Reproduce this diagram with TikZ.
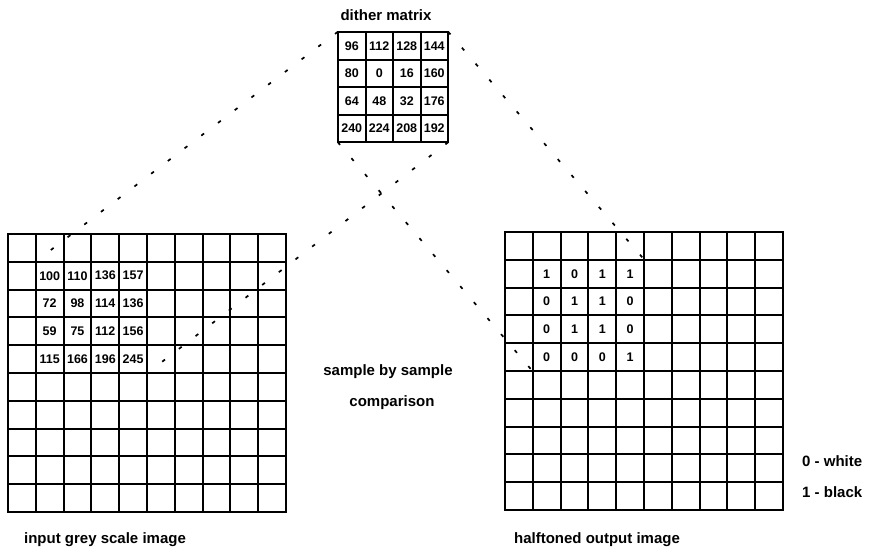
\documentclass[tikz,border=0pt]{standalone}
\usepackage{fontspec}
\setmainfont{Liberation Sans}
\begin{document}
\begin{tikzpicture}[x=1pt,y=-1pt,
  gridline/.style={line width=1.8pt, line cap=rect},
  link/.style={line width=1.7pt, dash pattern=on 3.5pt off 17.5pt},
  num/.style={font=\fontsize{12.5}{12.5}\selectfont\bfseries, inner sep=0pt},
  caption/.style={font=\fontsize{15}{15}\selectfont\bfseries, inner sep=0pt},
  region/.style={inner sep=0pt, minimum width=#1, minimum height=#1}]

\useasboundingbox (0,0) rectangle (873,554);

% input grey scale image: 10 x 10 grid
\foreach \i in {0,...,10} {
  \draw[gridline] ({round(8+27.8*\i)},234) -- ({round(8+27.8*\i)},512);
  \draw[gridline] (8,{round(234+27.8*\i)}) -- (286,{round(234+27.8*\i)});
}
% halftoned output image: 10 x 10 grid
\foreach \i in {0,...,10} {
  \draw[gridline] ({round(505+27.8*\i)},232) -- ({round(505+27.8*\i)},510);
  \draw[gridline] (505,{round(232+27.8*\i)}) -- (783,{round(232+27.8*\i)});
}
% dither matrix: 4 x 4 grid
\foreach \i in {0,...,4} {
  \draw[gridline] ({round(338+27.5*\i)},32) -- ({round(338+27.5*\i)},142);
  \draw[gridline] (338,{round(32+27.5*\i)}) -- (448,{round(32+27.5*\i)});
}

% blocks that are compared
\node[region=110pt]   (dm)     at (393,87) {};
\node[region=111.2pt] (inreg)  at ({8+27.8*3},{234+27.8*3}) {};
\node[region=111.2pt] (outreg) at ({505+27.8*3},{232+27.8*3}) {};

% dither matrix values
\foreach \row [count=\r] in {{96,112,128,144},{80,0,16,160},{64,48,32,176},{240,224,208,192}} {
  \foreach \v [count=\c] in \row {
    \node[num] (dm-\r-\c) at ({338+27.5*(\c-0.5)},{32+27.5*(\r-0.5)}) {\v};
  }
}
% input samples
\foreach \row [count=\r] in {{100,110,136,157},{72,98,114,136},{59,75,112,156},{115,166,196,245}} {
  \foreach \v [count=\c] in \row {
    \node[num] (in-\r-\c) at ({8+27.8*(\c+0.5)},{234+27.8*(\r+0.5)}) {\v};
  }
}
% output samples
\foreach \row [count=\r] in {{1,0,1,1},{0,1,1,0},{0,1,1,0},{0,0,0,1}} {
  \foreach \v [count=\c] in \row {
    \node[num] (out-\r-\c) at ({505+27.8*(\c+0.5)},{232+27.8*(\r+0.5)}) {\v};
  }
}

% projection lines
\draw[link] (dm.north west) -- (inreg.north west);
\draw[link] (dm.south east) -- (inreg.south east);
\draw[link] (dm.north east) -- (outreg.north east);
\draw[link] (dm.south west) -- (outreg.south west);

% captions
\node[caption] (t-dm)   at (386,15)  {dither matrix};
\node[caption] (t-cmp1) at (388,372) {sample by sample};
\node[caption] (t-cmp2) at (392,403) {comparison};
\node[caption] (t-in)   at (105,540) {input grey scale image};
\node[caption] (t-out)  at (597,540) {halftoned output image};
\node[caption, anchor=west] (t-w) at (802,461) {0 - white};
\node[caption, anchor=west] (t-b) at (802,492) {1 - black};
\end{tikzpicture}
\end{document}
